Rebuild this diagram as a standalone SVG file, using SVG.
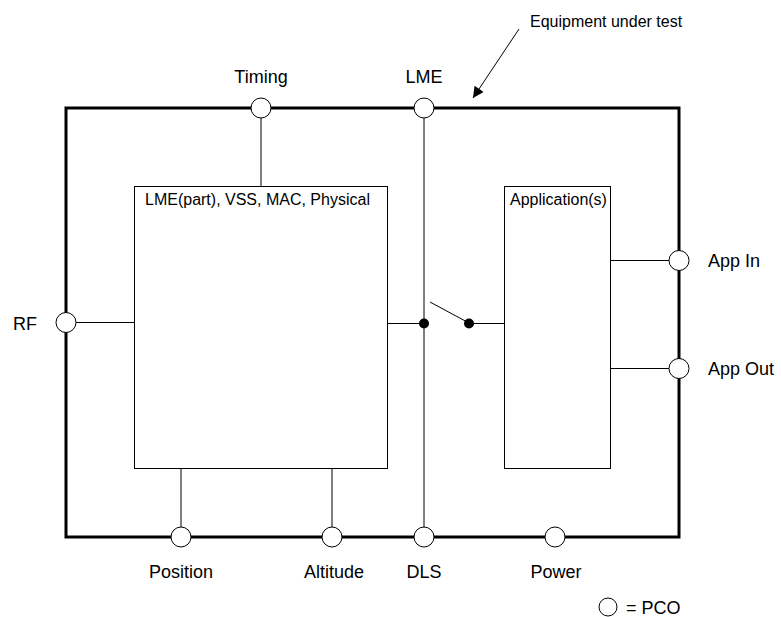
<svg xmlns="http://www.w3.org/2000/svg" width="781" height="617" viewBox="0 0 781 617">
<defs>
<style>
text{font-family:"Liberation Sans",Arial,sans-serif;fill:#000}
.lbl{font-size:18px}
.in{font-size:16px}
.box{fill:#fff;stroke:#000;stroke-width:1}
.ln{stroke:#000;stroke-width:1;fill:none}
.pco{fill:#fff;stroke:#000;stroke-width:1}
</style>
<marker id="ah" viewBox="0 0 10 10" refX="10" refY="5" markerWidth="16" markerHeight="11" markerUnits="userSpaceOnUse" orient="auto">
<path d="M0,0 L10,5 L0,10 z" fill="#000"/>
</marker>
</defs>
<rect width="781" height="617" fill="#fff"/>
<g id="eut">
<rect x="66" y="108" width="613" height="429" fill="none" stroke="#000" stroke-width="3"/>
</g>
<g id="connectors">
<line class="ln" x1="261" y1="118" x2="261" y2="186"/>
<line class="ln" x1="424" y1="118" x2="424" y2="527"/>
<line class="ln" x1="76" y1="322.5" x2="134" y2="322.5"/>
<line class="ln" x1="181" y1="469" x2="181" y2="527"/>
<line class="ln" x1="332" y1="469" x2="332" y2="527"/>
<line class="ln" x1="387" y1="323.5" x2="424" y2="323.5"/>
<line class="ln" x1="430" y1="302" x2="469" y2="323"/>
<line class="ln" x1="469" y1="323.5" x2="504" y2="323.5"/>
<line class="ln" x1="611" y1="260.5" x2="669" y2="260.5"/>
<line class="ln" x1="611" y1="368.5" x2="669" y2="368.5"/>
<circle cx="424" cy="323.5" r="5" fill="#000"/>
<circle cx="469" cy="323.5" r="5" fill="#000"/>
<line x1="519" y1="29" x2="473" y2="98" stroke="#000" stroke-width="1" marker-end="url(#ah)"/>
</g>
<g id="lme-stack">
<rect class="box" x="134.5" y="186.5" width="253" height="282"/>
<text class="in" x="145" y="205">LME(part), VSS, MAC, Physical</text>
</g>
<g id="applications">
<rect class="box" x="504.5" y="186.5" width="106" height="282"/>
<text class="in" x="510" y="205">Application(s)</text>
</g>
<g id="pco-timing"><circle class="pco" cx="261" cy="108" r="10"/><text class="lbl" x="261" y="83" text-anchor="middle">Timing</text></g>
<g id="pco-lme"><circle class="pco" cx="424" cy="108" r="10"/><text class="lbl" x="424" y="83" text-anchor="middle">LME</text></g>
<g id="pco-rf"><circle class="pco" cx="66" cy="322.5" r="10"/><text class="lbl" x="13" y="330">RF</text></g>
<g id="pco-appin"><circle class="pco" cx="679" cy="260.5" r="10"/><text class="lbl" x="708" y="267">App In</text></g>
<g id="pco-appout"><circle class="pco" cx="679" cy="368.5" r="10"/><text class="lbl" x="708" y="375">App Out</text></g>
<g id="pco-position"><circle class="pco" cx="181" cy="537" r="10"/><text class="lbl" x="181" y="578" text-anchor="middle">Position</text></g>
<g id="pco-altitude"><circle class="pco" cx="332" cy="537" r="10"/><text class="lbl" x="334" y="578" text-anchor="middle">Altitude</text></g>
<g id="pco-dls"><circle class="pco" cx="424" cy="537" r="10"/><text class="lbl" x="424" y="578" text-anchor="middle">DLS</text></g>
<g id="pco-power"><circle class="pco" cx="555" cy="537" r="10"/><text class="lbl" x="556" y="578" text-anchor="middle">Power</text></g>
<g id="legend"><circle class="pco" cx="608" cy="607" r="9"/><text class="lbl" x="626" y="614">= PCO</text></g>
<g id="eut-label"><text class="in" x="530" y="27">Equipment under test</text></g>
</svg>
